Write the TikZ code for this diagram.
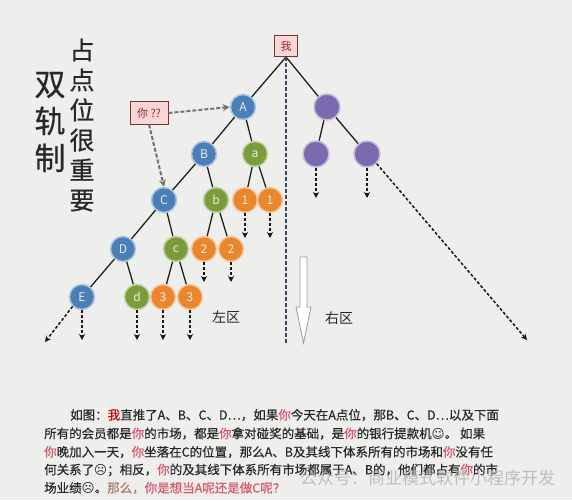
\documentclass[tikz,border=0pt]{standalone}
\usepackage{fontspec}
\newfontfamily\cjk{Noto Sans CJK SC}
\newfontfamily\cjkb[FakeBold=0.5]{Noto Sans CJK SC}
\newfontfamily\dv{DejaVu Sans}
\setmainfont{Noto Sans CJK SC}
\usetikzlibrary{arrows.meta}
\definecolor{bgc}{RGB}{238,238,236}
\definecolor{nblue}{RGB}{74,127,184}
\definecolor{ngreen}{RGB}{122,156,58}
\definecolor{norange}{RGB}{234,134,44}
\definecolor{npurple}{RGB}{124,106,176}
\definecolor{boxfill}{RGB}{248,214,214}
\definecolor{boxline}{RGB}{120,50,50}
\definecolor{boxtext}{RGB}{150,40,50}
\definecolor{vline}{RGB}{60,72,100}
\definecolor{txt}{RGB}{40,40,40}
\definecolor{ni}{RGB}{214,90,110}
\definecolor{tan}{RGB}{170,120,100}
\tikzset{
  ball/.style={circle, minimum size=25pt, inner sep=0pt, font=\cjk\fontsize{12}{12}\selectfont, text=white!92!black},
  bluen/.style={ball, fill=nblue, draw=nblue!45, line width=1.5pt},
  greenn/.style={ball, fill=ngreen, draw=ngreen!45, line width=1.5pt},
  orangen/.style={ball, fill=norange, draw=norange!45, line width=1.5pt},
  purplen/.style={ball, fill=npurple, draw=npurple!45, line width=1.5pt, minimum size=26pt},
  edge/.style={draw=black!88, line width=1.3pt},
  leaf/.style={draw=black!90, line width=1.5pt, dash pattern=on 3pt off 2pt, -{Stealth[length=6pt,width=6pt]}},
  pinkbox/.style={draw=boxline, fill=boxfill, line width=1pt, inner sep=3pt, font=\cjk\fontsize{11}{11}\selectfont, text=boxtext},
  gray arrow/.style={draw=black!55, line width=2pt, dash pattern=on 4pt off 2pt, -{Stealth[length=7pt,width=7pt]}},
  bodyline/.style={anchor=west, inner sep=0pt, font=\cjkb\fontsize{12.5}{12.5}\selectfont, text=txt}
}
\begin{document}
\begin{tikzpicture}[x=1pt,y=-1pt]
\fill[bgc] (0,0) rectangle (572,500);
\useasboundingbox (0,0) rectangle (572,500);

% titles
\node[font=\cjkb\fontsize{31}{37}\selectfont, text=txt, align=center, inner sep=0pt] (t1) at (50,122) {双\\轨\\制};
\node[font=\cjkb\fontsize{25}{30}\selectfont, text=txt, align=center, inner sep=0pt] (t2) at (82,125) {占\\点\\位\\很\\重\\要};

% boxes
\node[pinkbox, minimum width=23pt, minimum height=21pt] (me) at (286,46) {我};
\node[pinkbox, minimum width=38pt, minimum height=22pt] (you) at (149,113) {你 ??};

% tree nodes
\node[bluen] (A) at (243,107) {A};
\node[bluen] (B) at (204,154) {B};
\node[greenn] (a) at (255,154) {a};
\node[bluen] (C) at (164,200) {C};
\node[greenn] (b) at (216,200) {b};
\node[orangen] (o1) at (245,200) {1};
\node[orangen] (o2) at (270,200) {1};
\node[bluen] (D) at (123,249) {D};
\node[greenn] (c) at (176,249) {c};
\node[orangen] (t21) at (204,249) {2};
\node[orangen] (t22) at (231,249) {2};
\node[bluen] (E) at (82,297) {E};
\node[greenn] (d) at (137,297) {d};
\node[orangen] (t31) at (163,297) {3};
\node[orangen] (t32) at (190,297) {3};
\node[purplen] (P) at (327,107) {};
\node[purplen] (PL) at (316,154) {};
\node[purplen] (PR) at (367,154) {};

% solid edges
\draw[edge] (me.south) -- (A);
\draw[edge] (me.south) -- (P);
\draw[edge] (A) -- (B);
\draw[edge] (A) -- (a);
\draw[edge] (B) -- (C);
\draw[edge] (B) -- (b);
\draw[edge] (a) -- (o1);
\draw[edge] (a) -- (o2);
\draw[edge] (C) -- (D);
\draw[edge] (C) -- (c);
\draw[edge] (b) -- (t21);
\draw[edge] (b) -- (t22);
\draw[edge] (D) -- (E);
\draw[edge] (D) -- (d);
\draw[edge] (c) -- (t31);
\draw[edge] (c) -- (t32);
\draw[edge] (P) -- (PL);
\draw[edge] (P) -- (PR);

% vertical divider
\coordinate (vend) at (286,343);
\draw[vline, line width=1.6pt, dash pattern=on 4pt off 2pt] (me.south) -- (vend);

% hollow arrow
\draw[black!40, fill=white, line width=0.8pt] (300,257) -- (307,257) -- (307,307) -- (311,307) -- (303.5,343) -- (296,307) -- (300,307) -- cycle;

% you arrows
\draw[gray arrow] (you.east) -- (A.west);
\draw[gray arrow] (you.south) -- (C.north);

% leaf arrows
\coordinate (e1) at (245,238);
\coordinate (e2) at (270,238);
\coordinate (e3) at (204,282);
\coordinate (e4) at (231,282);
\coordinate (e5) at (82,340);
\coordinate (e6) at (137,340);
\coordinate (e7) at (163,340);
\coordinate (e8) at (190,340);
\coordinate (e9) at (316,198);
\coordinate (e10) at (367,198);
\coordinate (eL) at (45,342);
\coordinate (eR) at (527,340);
\draw[leaf] (o1.south) -- (e1);
\draw[leaf] (o2.south) -- (e2);
\draw[leaf] (t21.south) -- (e3);
\draw[leaf] (t22.south) -- (e4);
\draw[leaf] (E.south) -- (e5);
\draw[leaf] (d.south) -- (e6);
\draw[leaf] (t31.south) -- (e7);
\draw[leaf] (t32.south) -- (e8);
\draw[leaf] (PL.south) -- (e9);
\draw[leaf] (PR.south) -- (e10);
\draw[leaf] (E.south west) -- (eL);
\draw[leaf] (PR.south east) -- (eR);

% zone labels
\node[font=\cjk\fontsize{14}{14}\selectfont, text=txt] (zl) at (226,317) {左区};
\node[font=\cjk\fontsize{14}{14}\selectfont, text=txt] (zr) at (339,318) {右区};

% body text
\node[bodyline] (l1) at (70,415) {如图：\textcolor{red!80!black}{我}直推了A、B、C、D…，如果\textcolor{ni}{你}今天在A点位，那B、C、D…以及下面};
\node[bodyline] (l2) at (44,433.5) {所有的会员都是\textcolor{ni}{你}的市场，都是\textcolor{ni}{你}拿对碰奖的基础，是\textcolor{ni}{你}的银行提款机{\dv ☺}。 如果};
\node[bodyline] (l3) at (44,452) {\textcolor{ni}{你}晚加入一天，\textcolor{ni}{你}坐落在C的位置，那么A、B及其线下体系所有的市场和\textcolor{ni}{你}没有任};
\node[bodyline] (l4) at (44,470) {何关系了{\dv ☹}；相反，\textcolor{ni}{你}的及其线下体系所有市场都属于A、B的，他们都占有\textcolor{ni}{你}的市};
\node[bodyline] (l5) at (44,488) {场业绩{\dv ☹}。\textcolor{tan}{那么，}\textcolor{ni}{你是想当A呢还是做C呢？}};
\node[anchor=west, inner sep=0pt, font=\cjk\fontsize{17}{17}\selectfont, text=black!30, opacity=0.8] (wm) at (300,478) {公众号：商业模式软件小程序开发};
\end{tikzpicture}
\end{document}
